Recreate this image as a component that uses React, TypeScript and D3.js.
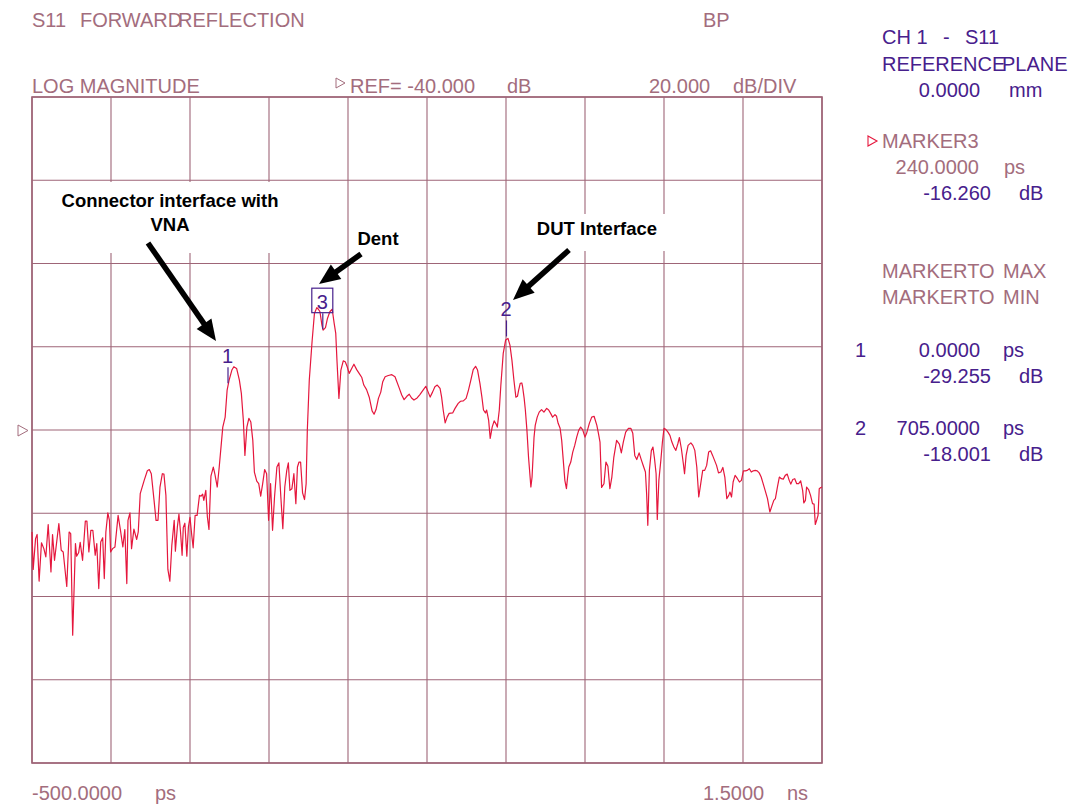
import React from "react";
import * as d3 from "d3";

// ---------- data ----------
const timeDomainPs: [number, number] = [-500, 1500];
const magDomainDb: [number, number] = [-120, 40];
const xDivisions = 10;
const yDivisions = 8;

// [time (ps), magnitude (dB)]
const traceData: [number, number][] = [
  [-500,-64.5],[-497,-73.5],[-491,-66.1],[-487,-65.1],[-482,-76.3],[-476,-67.1],[-470,-68.5],[-465,-70.5],[-459,-62.7],[-452,-74.1],[-448,-65.1],[-443,-71.3],[-432,-62.5],[-426,-68.9],[-421,-69.3],[-412,-77.6],[-406,-64.5],[-402,-64.9],[-397,-89.3],[-390,-67.3],[-387,-70.3],[-382,-69.5],[-378,-67.0],[-372,-71.3],[-365,-61.9],[-361,-61.9],[-356,-69.3],[-351,-64.1],[-346,-64.1],[-340,-70.1],[-336,-67.3],[-331,-78.1],[-326,-66.9],[-321,-65.9],[-317,-75.7],[-313,-64.5],[-308,-59.9],[-304,-61.7],[-301,-69.3],[-296,-68.5],[-290,-68.1],[-282,-60.5],[-276,-64.1],[-270,-68.1],[-265,-63.9],[-260,-76.9],[-257,-61.7],[-252,-59.9],[-248,-68.5],[-242,-63.8],[-235,-66.3],[-231,-64.5],[-226,-55.3],[-216,-52.1],[-208,-49.8],[-203,-49.5],[-198,-50.5],[-191,-56.9],[-186,-61.7],[-181,-61.7],[-176,-53.7],[-170,-50.5],[-166,-50.6],[-161,-55.7],[-156,-73.5],[-151,-76.3],[-146,-67.7],[-140,-61.7],[-137,-69.1],[-132,-63.3],[-128,-60.2],[-124,-64.5],[-120,-70.1],[-117,-63.4],[-113,-62.4],[-108,-70.3],[-104,-63.3],[-100,-61.0],[-96,-64.9],[-92,-68.3],[-87,-60.5],[-82,-60.5],[-76,-55.7],[-72,-55.9],[-68,-55.4],[-65,-56.9],[-60,-54.5],[-56,-60.9],[-52,-63.9],[-47,-51.1],[-41,-48.9],[-37,-50.6],[-31,-53.7],[-26,-48.9],
  [-17,-39.3],[-11,-36.9],[-6,-30.4],[-1,-28.0],[6,-25.6],[11,-24.8],[18,-25.2],[25,-28.0],[30,-31.2],[35,-37.6],[39,-46.1],[44,-39.3],[49,-37.2],[54,-38.1],[59,-42.5],[63,-50.1],[69,-52.3],[74,-52.9],[79,-55.9],[84,-52.9],[89,-49.5],[94,-50.5],[99,-61.7],[104,-52.9],[109,-64.1],[114,-56.1],[120,-48.9],[125,-47.9],[130,-56.1],[135,-63.7],[140,-53.7],[145,-49.7],[149,-47.9],[153,-54.5],[158,-54.1],[163,-50.5],[168,-57.7],[172,-48.9],[176,-47.7],[180,-47.7],[185,-55.1],[190,-56.7],[194,-52.9],[197,-40.1],[202,-28.0],[209,-18.8],[215,-12.0],[221,-10.6],[225,-11.0],[229,-11.6],[234,-14.8],[237,-16.0],[243,-15.4],[248,-13.2],[254,-11.6],[260,-11.0],[265,-14.4],[269,-16.8],[272,-23.2],[277,-32.4],[282,-25.6],[288,-23.4],[293,-23.6],[298,-24.8],[303,-26.4],[310,-25.1],[315,-24.2],[322,-25.5],[329,-26.5],[335,-27.4],[340,-29.2],[347,-30.3],[354,-32.2],[361,-35.4],[366,-36.2],[371,-35.1],[377,-32.4],[383,-30.9],[388,-28.4],[394,-27.2],[402,-26.9],[411,-26.7],[419,-27.2],
  [430,-30.0],[436,-31.6],[442,-32.7],[449,-31.9],[455,-31.4],[461,-32.3],[467,-32.8],[475,-32.3],[482,-31.5],[491,-30.3],[497,-29.5],[503,-30.9],[508,-32.1],[514,-30.9],[520,-29.6],[526,-29.2],[533,-30.0],[537,-32.1],[541,-35.2],[546,-38.3],[551,-36.9],[556,-36.0],[565,-35.9],[571,-34.8],[579,-33.6],[585,-33.1],[592,-33.0],[599,-32.4],[605,-30.4],[611,-28.0],[617,-25.5],[623,-24.7],[628,-25.6],[634,-28.8],[639,-32.1],[643,-35.2],[648,-35.9],[651,-35.2],[656,-37.6],[660,-42.0],[665,-39.3],[670,-37.8],[675,-38.6],[678,-39.3],[683,-35.2],[687,-29.2],[693,-21.6],[699,-18.4],[705,-18.0],[710,-19.6],[715,-23.2],[720,-28.0],[725,-32.1],[729,-31.9],[732,-30.4],[736,-28.8],[740,-28.7],[742,-29.6],[746,-32.4],[749,-35.2],[753,-40.1],[757,-46.5],[763,-53.7],[766,-51.3],[771,-41.7],[774,-38.9],[779,-36.9],[784,-35.7],[790,-35.1],[796,-35.7],[803,-34.8],[808,-35.2],[813,-36.0],[818,-36.9],[824,-36.3],[828,-36.7],[832,-38.4],[837,-39.6],[841,-42.5],[845,-47.3],[849,-52.1],[853,-54.1],[856,-51.3],[859,-48.9],[864,-47.7],[869,-45.3],[874,-43.7],[879,-41.7],[884,-40.1],[889,-39.3],[894,-39.9],[900,-41.7],[904,-40.8],[911,-38.4],[917,-36.9],[923,-36.7],[930,-38.9],[934,-40.8],[938,-42.9],
  [942,-53.8],[948,-52.9],[953,-47.7],[958,-48.7],[963,-54.1],[968,-51.3],[973,-46.5],[980,-42.5],[987,-43.4],[992,-45.5],[997,-42.9],[1003,-40.5],[1010,-39.6],[1016,-39.6],[1021,-40.8],[1026,-46.1],[1031,-47.1],[1037,-45.5],[1043,-47.3],[1048,-48.7],[1053,-50.1],[1056,-55.3],[1059,-62.9],[1063,-49.7],[1068,-44.9],[1072,-44.1],[1076,-46.9],[1080,-50.5],[1083,-61.5],[1087,-52.1],[1092,-47.3],[1096,-42.9],[1100,-39.6],[1105,-39.9],[1110,-40.5],[1115,-41.3],[1120,-42.9],[1125,-44.1],[1130,-44.9],[1135,-43.3],[1139,-41.8],[1144,-44.5],[1149,-48.1],[1152,-50.5],[1156,-46.1],[1161,-43.7],[1168,-43.1],[1173,-43.7],[1178,-44.9],[1183,-48.9],[1188,-56.1],[1193,-52.9],[1198,-49.7],[1203,-49.7],[1208,-48.5],[1213,-45.3],[1218,-45.0],[1223,-46.1],[1228,-47.3],[1233,-48.5],[1238,-50.3],[1244,-50.1],[1249,-49.0],[1254,-51.3],[1259,-56.5],[1264,-55.7],[1267,-54.9],[1271,-56.1],[1275,-52.5],[1280,-50.9],[1286,-51.7],[1291,-52.5],[1296,-52.1],[1301,-49.8],[1306,-49.8],[1311,-49.7],[1316,-49.3],[1321,-50.1],[1326,-49.8],[1331,-49.7],[1336,-49.8],[1341,-50.3],[1346,-51.3],[1351,-52.9],[1356,-54.5],[1362,-56.5],[1368,-59.7],[1373,-58.3],[1378,-56.9],[1382,-56.5],[1387,-53.8],[1392,-51.3],[1397,-51.7],[1402,-51.8],[1407,-50.9],[1412,-50.6],[1417,-52.1],[1421,-53.0],[1426,-51.9],[1431,-51.7],[1436,-52.9],[1441,-52.9],[1446,-52.2],[1451,-54.5],[1454,-57.5],[1458,-56.9],[1461,-53.7],[1466,-54.3],[1471,-55.7],[1476,-57.7],[1480,-57.8],[1483,-62.7],[1487,-61.5],[1490,-60.5],[1493,-54.1],[1497,-53.8],[1500,-53.7]
];

const markerIds = ["1", "2", "3"];
const markerTimesPs = [0, 705, 240];
const markerValuesDb = [-29.255, -18.001, -16.26];
const activeMarker = "3";
const referenceLevelDb = -40;

// ---------- styling ----------
const FONT = "'Liberation Sans', Arial, Helvetica, sans-serif";
const MAUVE = "#a36d7d";
const GRID = "#9e6577";
const PURPLE = "#47208c";
const TRACE = "#e5173d";

const xScale = d3.scaleLinear().domain(timeDomainPs).range([32, 822]);
const yScale = d3.scaleLinear().domain(magDomainDb).range([763, 97]);

function Arrow({ x1, y1, x2, y2 }: { x1: number; y1: number; x2: number; y2: number }) {
  const dx = x2 - x1, dy = y2 - y1;
  const len = Math.hypot(dx, dy);
  const ux = dx / len, uy = dy / len;
  const hl = 21, hw = 9;
  const bx = x2 - ux * hl, by = y2 - uy * hl;
  const px = -uy, py = ux;
  const pts = [
    [x2, y2],
    [bx + px * hw, by + py * hw],
    [bx - px * hw, by - py * hw],
  ].map((p) => p.join(",")).join(" ");
  return (
    <g>
      <line x1={x1} y1={y1} x2={bx + ux * 2} y2={by + uy * 2} stroke="#000" strokeWidth={5.5} />
      <polygon points={pts} fill="#000" />
    </g>
  );
}

export default function App() {
  const xTicks = d3.range(xDivisions + 1).map((i) => timeDomainPs[0] + (i * (timeDomainPs[1] - timeDomainPs[0])) / xDivisions);
  const yTicks = d3.range(yDivisions + 1).map((i) => magDomainDb[0] + (i * (magDomainDb[1] - magDomainDb[0])) / yDivisions);
  const line = d3
    .line<[number, number]>()
    .x((d) => xScale(d[0]))
    .y((d) => yScale(d[1]));

  const [x0, x1] = xScale.range();
  const [yb, yt] = yScale.range();
  const refY = yScale(referenceLevelDb);

  const txt = (x: number, y: number, s: string, fill = MAUVE, anchor: "start" | "end" | "middle" = "start", size = 20) => (
    <text x={x} y={y} fill={fill} fontSize={size} fontFamily={FONT} textAnchor={anchor}>
      {s}
    </text>
  );

  return (
    <div style={{ position: "absolute", left: 0, top: 0 }}>
      <svg width={1074} height={806} style={{ display: "block", background: "#fff" }}>
        {/* grid */}
        <g>
          {xTicks.map((t, i) => (
            <line key={"vx" + i} x1={xScale(t)} x2={xScale(t)} y1={yt} y2={yb} stroke={GRID} strokeWidth={1.1} />
          ))}
          {yTicks.map((t, i) => (
            <line key={"hy" + i} x1={x0} x2={x1} y1={yScale(t)} y2={yScale(t)} stroke={GRID} strokeWidth={1.1} />
          ))}
          <rect x={x0} y={yt} width={x1 - x0} height={yb - yt} fill="none" stroke={GRID} strokeWidth={1.6} />
        </g>

        {/* header texts */}
        {txt(32, 27, "S11")}
        {txt(80, 27, "FORWARD")}
        {txt(178, 27, "REFLECTION")}
        {txt(703, 27, "BP")}
        {txt(32, 93, "LOG MAGNITUDE")}
        <polygon points="336,78 345,83 336,88" fill="none" stroke={MAUVE} strokeWidth={1} />
        {txt(350, 93, "REF= -40.000")}
        {txt(507, 93, "dB")}
        {txt(649, 93, "20.000")}
        {txt(733, 93, "dB/DIV")}

        {/* reference level indicator */}
        <polygon points={`18,${refY - 5} 28,${refY + 0.5} 18,${refY + 6}`} fill="none" stroke={MAUVE} strokeWidth={1} />

        {/* bottom axis texts */}
        {txt(32, 800, "-500.0000")}
        {txt(155, 800, "ps")}
        {txt(703, 800, "1.5000")}
        {txt(787, 800, "ns")}

        {/* right panel */}
        {txt(882, 44, "CH 1", PURPLE)}
        {txt(943, 44, "-", PURPLE)}
        {txt(965, 44, "S11", PURPLE)}
        {txt(882, 71, "REFERENCE", PURPLE)}
        {txt(1002, 71, "PLANE", PURPLE)}
        {txt(980, 97, "0.0000", PURPLE, "end")}
        {txt(1009, 97, "mm", PURPLE)}

        <polygon points="868,136 877,141 868,146" fill="none" stroke={TRACE} strokeWidth={1.1} />
        {txt(882, 148, "MARKER" + activeMarker, MAUVE)}
        {txt(979, 174, (markerTimesPs[2]).toFixed(4), MAUVE, "end")}
        {txt(1004, 174, "ps", MAUVE)}
        {txt(991, 200, markerValuesDb[2].toFixed(3), PURPLE, "end")}
        {txt(1019, 200, "dB", PURPLE)}

        {txt(882, 278, "MARKERTO", MAUVE)}
        {txt(1003, 278, "MAX", MAUVE)}
        {txt(882, 304, "MARKERTO", MAUVE)}
        {txt(1003, 304, "MIN", MAUVE)}

        {txt(855, 357, markerIds[0], PURPLE)}
        {txt(980, 357, markerTimesPs[0].toFixed(4), PURPLE, "end")}
        {txt(1003, 357, "ps", PURPLE)}
        {txt(991, 383, markerValuesDb[0].toFixed(3), PURPLE, "end")}
        {txt(1019, 383, "dB", PURPLE)}

        {txt(855, 435, markerIds[1], PURPLE)}
        {txt(980, 435, markerTimesPs[1].toFixed(4), PURPLE, "end")}
        {txt(1003, 435, "ps", PURPLE)}
        {txt(991, 461, markerValuesDb[1].toFixed(3), PURPLE, "end")}
        {txt(1019, 461, "dB", PURPLE)}

        {/* trace */}
        <path d={line(traceData) || ""} fill="none" stroke={TRACE} strokeWidth={1.2} strokeLinejoin="round" />

        {/* markers */}
        {markerIds.map((id, i) => {
          const mx = xScale(markerTimesPs[i]);
          const my = yScale(markerValuesDb[i]);
          const active = id === activeMarker;
          return (
            <g key={"m" + id}>
              <line x1={mx - 1.5} x2={mx - 1.5} y1={my - 18} y2={my - 2} stroke={PURPLE} strokeWidth={1.2} />
              {active && (
                <rect x={mx - 12.5} y={my - 43} width={21} height={24.5} fill="none" stroke={PURPLE} strokeWidth={1.2} />
              )}
              <text x={mx - 2} y={my - 22} fill={PURPLE} fontSize={20} fontFamily={FONT} textAnchor="middle">
                {id}
              </text>
            </g>
          );
        })}

        {/* annotations */}
        <rect x={56} y={182} width={228} height={71} fill="#fff" />
        <rect x={352} y={228} width={52} height={24} fill="#fff" />
        <rect x={526} y={214} width={146} height={37} fill="#fff" />
        <text x={170} y={207} fontSize={18.5} fontWeight="bold" fontFamily={FONT} textAnchor="middle" fill="#000">
          Connector interface with
        </text>
        <text x={170} y={231} fontSize={18.5} fontWeight="bold" fontFamily={FONT} textAnchor="middle" fill="#000">
          VNA
        </text>
        <text x={378} y={245} fontSize={18.5} fontWeight="bold" fontFamily={FONT} textAnchor="middle" fill="#000">
          Dent
        </text>
        <text x={597} y={235} fontSize={18.5} fontWeight="bold" fontFamily={FONT} textAnchor="middle" fill="#000">
          DUT Interface
        </text>
        <Arrow x1={148} y1={243} x2={216} y2={341} />
        <Arrow x1={361} y1={254} x2={319} y2={284} />
        <Arrow x1={569} y1={250} x2={513} y2={300} />
      </svg>
    </div>
  );
}
